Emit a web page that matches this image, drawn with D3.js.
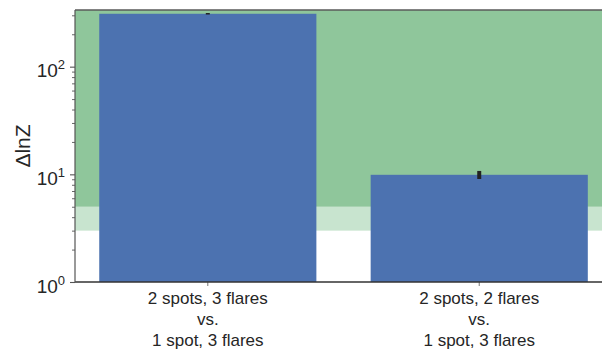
<!DOCTYPE html>
<html>
<head>
<meta charset="utf-8">
<script src="https://cdn.jsdelivr.net/npm/d3@7"></script>
<style>
  html, body { margin: 0; padding: 0; background: #fff; }
  svg { display: block; font-family: "Liberation Sans", Arial, sans-serif; }
</style>
</head>
<body>
<svg id="chart" width="602" height="352"></svg>
<script>
// Model comparisons (x categories, multi-line labels)
const categories = [
  ["2 spots, 3 flares", "vs.", "1 spot, 3 flares"],
  ["2 spots, 2 flares", "vs.", "1 spot, 3 flares"]
];
// Bayes-factor differences and their uncertainties
const deltaLnZ = [310, 9.9];
const deltaLnZErr = [5, 0.85];
// Evidence thresholds shaded behind the bars
const bandLow = [3, 5];      // "positive" evidence range
const bandHigh = [5, 336];   // "strong" evidence range
// Major tick values on the log axis
const yTicks = [1, 10, 100];
const yTickExps = ["0", "1", "2"];

const svg = d3.select("#chart");
const margin = { left: 75, right: 602, top: 10, bottom: 282 };

const y = d3.scaleLog().domain([1, 336]).range([margin.bottom, margin.top]);
// category index -> pixel position
const x = d3.scaleLinear().domain([-0.4893, 1.4523]).range([margin.left, margin.right]);
const barWidth = 0.8;

// shaded evidence bands
svg.append("rect")
  .attr("x", margin.left).attr("width", margin.right - margin.left)
  .attr("y", y(bandLow[1])).attr("height", y(bandLow[0]) - y(bandLow[1]))
  .attr("fill", "#c8e4cf");
svg.append("rect")
  .attr("x", margin.left).attr("width", margin.right - margin.left)
  .attr("y", y(bandHigh[1])).attr("height", y(bandHigh[0]) - y(bandHigh[1]))
  .attr("fill", "#8fc69b");

// bars
svg.selectAll("rect.bar").data(deltaLnZ).join("rect")
  .attr("class", "bar")
  .attr("x", (d, i) => x(i - barWidth / 2))
  .attr("width", (d, i) => x(i + barWidth / 2) - x(i - barWidth / 2))
  .attr("y", d => y(d))
  .attr("height", d => y(1) - y(d))
  .attr("fill", "#4c72b0");

// error bars
svg.selectAll("line.err").data(deltaLnZ).join("line")
  .attr("class", "err")
  .attr("x1", (d, i) => x(i)).attr("x2", (d, i) => x(i))
  .attr("y1", (d, i) => y(d + deltaLnZErr[i]))
  .attr("y2", (d, i) => y(d - deltaLnZErr[i]))
  .attr("stroke", "#222").attr("stroke-width", 4);

// y axis with minor ticks
const minorTicks = [];
for (let dec = 1; dec <= 100; dec *= 10) {
  for (let k = 2; k <= 9; k++) {
    const v = dec * k;
    if (v <= 336) minorTicks.push(v);
  }
}
const yAxisMinor = d3.axisLeft(y).tickValues(minorTicks).tickSize(3).tickFormat("");
const gMinor = svg.append("g").attr("transform", `translate(${margin.left},0)`).call(yAxisMinor);
gMinor.select(".domain").remove();
gMinor.selectAll("line").attr("stroke", "#555").attr("stroke-width", 0.9);

const yAxis = d3.axisLeft(y).tickValues(yTicks).tickSize(5).tickPadding(8).tickFormat("");
const gY = svg.append("g").attr("transform", `translate(${margin.left},0)`).call(yAxis);
gY.select(".domain").remove();
gY.selectAll("line").attr("stroke", "#555").attr("stroke-width", 1.1);
gY.selectAll(".tick").each(function (d, i) {
  const t = d3.select(this).append("text")
    .attr("x", -10).attr("y", 10)
    .attr("text-anchor", "end")
    .attr("fill", "#262626")
    .style("font-size", "19px");
  t.append("tspan").text("10");
  t.append("tspan").attr("dy", "-0.6em").style("font-size", "13px").text(yTickExps[i]);
});

// x axis: category ticks + multi-line labels
const gX = svg.append("g");
categories.forEach((lines, i) => {
  gX.append("line")
    .attr("x1", x(i)).attr("x2", x(i))
    .attr("y1", margin.bottom).attr("y2", margin.bottom + 4)
    .attr("stroke", "#777").attr("stroke-width", 1);
  const t = gX.append("text")
    .attr("x", x(i)).attr("y", 304)
    .attr("text-anchor", "middle")
    .attr("fill", "#262626")
    .style("font-size", "17px");
  lines.forEach((s, j) => {
    t.append("tspan").attr("x", x(i)).attr("dy", j === 0 ? 0 : 21).text(s);
  });
});

// spines
svg.append("line")
  .attr("x1", margin.left).attr("x2", margin.right)
  .attr("y1", margin.top).attr("y2", margin.top)
  .attr("stroke", "#5a5a5a").attr("stroke-width", 1.4);
svg.append("line")
  .attr("x1", margin.left).attr("x2", margin.right)
  .attr("y1", margin.bottom).attr("y2", margin.bottom)
  .attr("stroke", "#333").attr("stroke-width", 1.4);
svg.append("line")
  .attr("x1", margin.left).attr("x2", margin.left)
  .attr("y1", margin.top).attr("y2", margin.bottom)
  .attr("stroke", "#555").attr("stroke-width", 1.2);

// y label
svg.append("text")
  .attr("transform", `translate(30,${(margin.top + margin.bottom) / 2}) rotate(-90)`)
  .attr("text-anchor", "middle")
  .attr("fill", "#262626")
  .style("font-size", "21px")
  .text("ΔlnZ");
</script>
</body>
</html>
